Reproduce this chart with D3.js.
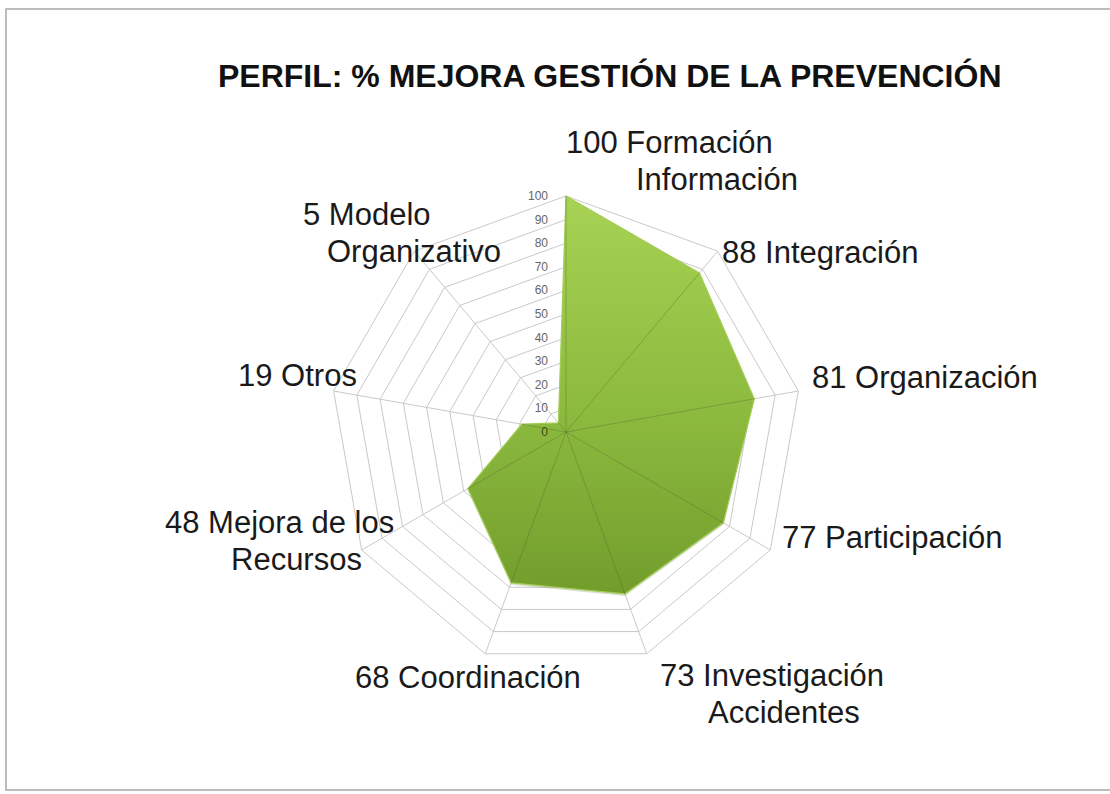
<!DOCTYPE html>
<html>
<head>
<meta charset="utf-8">
<script src="https://cdn.jsdelivr.net/npm/d3@7"></script>
<style>
  body { margin: 0; background: #fff; }
  text { font-family: "Liberation Sans", Arial, sans-serif; }
</style>
</head>
<body>
<div id="chart"></div>
<script>
// data
let categories = [['Formación', 'Información'], ['Integración'], ['Organización'], ['Participación'],
  ['Investigación', 'Accidentes'], ['Coordinación'], ['Mejora de los', 'Recursos'], ['Otros'], ['Modelo', 'Organizativo']]
let values = [100, 88, 81, 77, 73, 68, 48, 19, 5]
let ticks = [0, 10, 20, 30, 40, 50, 60, 70, 80, 90, 100]
let title = 'PERFIL: % MEJORA GESTIÓN DE LA PREVENCIÓN'

// label placement (first line x, baseline y, second line x)
let labelLayout = [[566, 153, 636], [722, 263], [812, 388], [782, 548], [660, 686, 708],
  [355, 688], [165, 533, 231], [238, 386], [303, 225, 327]]

let w = 1110, h = 794
let cx = 566, cy = 432, R = 236
let n = values.length

let svg = d3.select('#chart').append('svg').attr('width', w).attr('height', h)

let defs = svg.append('defs')
let grad = defs.append('linearGradient').attr('id', 'fillGrad')
  .attr('x1', 0).attr('y1', 0).attr('x2', 0).attr('y2', 1)
grad.append('stop').attr('offset', '0%').attr('stop-color', '#a7d253')
grad.append('stop').attr('offset', '55%').attr('stop-color', '#8cba3e')
grad.append('stop').attr('offset', '100%').attr('stop-color', '#729d2c')

// frame
svg.append('rect').attr('x', 6).attr('y', 9).attr('width', 1120).attr('height', 781)
  .attr('fill', 'none').attr('stroke', '#a6a6a6').attr('stroke-width', 1.5)

svg.append('text').attr('x', 218).attr('y', 87).text(title)
  .style('font-size', '32px').style('font-weight', 'bold').attr('fill', '#111')

let rScale = d3.scaleLinear().domain([0, 100]).range([0, R])
let angle = d3.scaleLinear().domain([0, n]).range([0, 2 * Math.PI])

let pt = (i, v) => [cx + rScale(v) * Math.sin(angle(i)), cy - rScale(v) * Math.cos(angle(i))]

// rings
let grid = svg.append('g')
grid.selectAll('polygon').data(ticks.slice(1)).enter().append('polygon')
  .attr('points', t => d3.range(n).map(i => pt(i, t).join(',')).join(' '))
  .attr('fill', 'none').attr('stroke', '#c9c9c9').attr('stroke-width', 1)

// spokes
grid.selectAll('line').data(d3.range(n)).enter().append('line')
  .attr('x1', cx).attr('y1', cy)
  .attr('x2', i => pt(i, 100)[0]).attr('y2', i => pt(i, 100)[1])
  .attr('stroke', '#c9c9c9').attr('stroke-width', 1)

// series
let area = d3.lineRadial().angle((d, i) => angle(i)).radius(d => rScale(d)).curve(d3.curveLinearClosed)
svg.append('path').attr('transform', 'translate(' + cx + ',' + (cy + 2) + ')')
  .attr('d', area(values)).attr('fill', 'rgba(60,80,20,0.18)')
svg.append('path').attr('transform', 'translate(' + cx + ',' + cy + ')')
  .attr('d', area(values)).attr('fill', 'url(#fillGrad)')
  .attr('stroke', '#a3cc55').attr('stroke-width', 1.2).attr('stroke-linejoin', 'round')

// spokes seen through the fill
svg.append('g').selectAll('line').data(d3.range(n)).enter().append('line')
  .attr('x1', cx).attr('y1', cy)
  .attr('x2', i => pt(i, values[i])[0]).attr('y2', i => pt(i, values[i])[1])
  .attr('stroke', 'rgba(80,100,50,0.35)').attr('stroke-width', 1)

// tick labels on the first axis
svg.append('g').selectAll('text').data(ticks).enter().append('text')
  .attr('x', cx - 18).attr('y', t => cy - rScale(t) + 4)
  .attr('text-anchor', 'end').style('font-size', '12px')
  .attr('fill', t => t === 0 ? '#3f4d1e' : '#666666')
  .text(t => t)

// category labels
let labels = svg.append('g')
categories.forEach((c, i) => {
  let lay = labelLayout[i]
  labels.append('text').attr('x', lay[0]).attr('y', lay[1])
    .style('font-size', '31px').attr('fill', '#1a1a1a')
    .text(values[i] + ' ' + c[0])
  if (c.length > 1) {
    labels.append('text').attr('x', lay[2]).attr('y', lay[1] + 37)
      .style('font-size', '31px').attr('fill', '#1a1a1a')
      .text(c[1])
  }
})
</script>
</body>
</html>
